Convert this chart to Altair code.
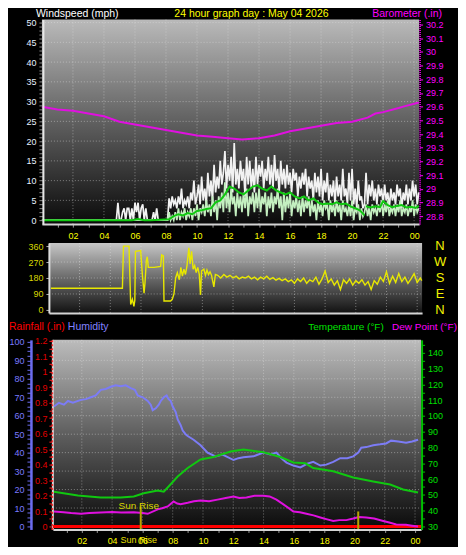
import altair as alt
import pandas as pd

FONT = "Liberation Sans"
W, H = 450, 539

# ---------------- shared tick lists ----------------
hour_ticks = list(range(1, 25))
grid_hours = [2, 4, 6, 8, 10, 12, 14, 16, 18, 20, 22, 24]

# ---------------- panel 1 : wind speed & barometer ----------------
wind_ticks = list(range(0, 51))
wind_grid = [5, 10, 15, 20, 25, 30, 35, 40, 45, 50]
baro_ticks = [28.8, 28.9, 29.0, 29.1, 29.2, 29.3, 29.4, 29.5, 29.6, 29.7,
              29.8, 29.9, 30.0, 30.1, 30.2]

gust_start, gust_step = 4.8, 0.1
gust = [
    0, 4.4, 0, 0, 2, 3, 0, 3, 3, 0,
    3, 0, 4.4, 2, 4.4, 0, 3, 4, 0, 3,
    0, 0, 0, 0, 2, 0, 3, 0, 0, 0,
    0, 0, 0, 0, 5.5, 3, 6, 4, 5, 3,
    6, 4, 8, 3, 5, 4, 6, 3, 7, 5,
    10, 4, 6, 9, 4, 11, 5, 8, 4, 12,
    6, 10, 5, 14, 7, 11, 8, 15, 9, 12,
    17.5, 8, 14, 10, 16, 7, 19.5, 9, 13, 8,
    15, 10, 13, 6, 16, 9, 15, 8, 13, 7,
    16, 9, 14, 11, 15, 8, 13, 10, 16, 9,
    14, 8, 16.5, 10, 13, 7, 15, 9, 13, 8,
    14, 9, 12, 7, 13, 10, 12, 6, 11, 8,
    12, 9, 13, 6, 11, 8, 10, 5, 12, 7,
    11, 6, 13, 5, 10, 7, 12, 5, 9, 6,
    10, 4, 11, 6, 9, 5, 13, 6, 8, 4,
    12, 5, 13, 4, 8, 3, 10, 5, 6, 3,
    4, 12, 4, 9, 6, 10, 5, 8, 4, 9,
    6, 8, 4, 9, 5, 7, 3, 8, 5, 7,
    4, 9, 6, 8, 3, 7, 5, 9, 4, 8,
    5, 10, 6, 9, 4, 7]

speed_start, speed_step = 7.8, 0.1
speed = [
    0, 0, 0, 0, 2, 0, 1, 0, 2, 0,
    3, 0, 2, 1, 3, 0, 2, 1, 3, 0,
    3, 1, 4, 0, 3, 2, 4, 1, 5, 2,
    4, 1, 6, 2, 5, 0, 6, 3, 7, 2,
    9.6, 3, 7, 2, 8, 4, 6, 1, 7, 3,
    6, 2, 7, 3, 8, 1, 6, 4, 7, 2,
    7, 3, 8, 2, 6, 4, 7, 1, 6, 3,
    7, 2, 6, 4, 8, 3, 6, 0, 7, 2,
    6, 3, 7, 1, 5, 3, 6, 2, 5, 1,
    6, 2, 5, 3, 6, 1, 5, 2, 4, 0,
    5, 2, 4, 1, 5, 3, 4, 0, 5, 2,
    4, 1, 5, 2, 4, 0, 5, 2, 3, 1,
    4, 1, 5, 0, 3, 2, 4, 0, 3, 1,
    2, 4, 1, 3, 0, 4, 2, 3, 1, 4,
    2, 5, 1, 4, 2, 5, 1, 3, 2, 4,
    1, 4, 2, 5, 1, 3, 2, 4, 1, 3,
    2, 5, 1, 4, 2, 3]

avg_a_t = [0, 5.8, 6.2, 6.6, 7.0, 8.2, 8.5, 8.8, 9.1, 9.4, 9.7, 10.0, 10.3, 10.6,
           10.9, 11.2, 11.5, 11.8, 12.1, 12.4, 12.7, 13.0, 13.3, 13.6, 13.9, 14.2,
           14.5, 14.8, 15.1, 15.4, 15.7, 16.0, 16.3, 16.6, 16.9, 17.2, 17.5, 17.8,
           18.1, 18.4, 18.7, 19.0, 19.3, 19.6, 19.9, 20.2, 20.5, 20.8]
avg_a_v = [0, 0, 0.3, 0, 0, 0.2, 1, 1.5, 1.2, 1.8, 1.5, 2.3, 2.5, 2.8,
           3, 4.5, 5, 6.5, 8.5, 8, 7, 6.5, 7.5, 8.5, 8.8, 8,
           7.5, 8.5, 7.5, 7, 6.5, 7, 6, 5.5, 6, 5, 5.5, 4.5,
           4, 4.2, 4, 4.5, 4, 4.2, 3.5, 3, 2.5, 1.2]
avg_b_t = [20.9, 21.2, 21.5, 21.8, 22.0, 22.3, 22.6, 22.9, 23.2, 23.5, 23.8, 24.1, 24.3]
avg_b_v = [3.5, 3.2, 3.5, 3.3, 4.8, 3.8, 3.3, 3.6, 3.8, 3.2, 3.4, 3.1, 3.6]

baro_t = [0, 1, 2, 3, 4, 5, 6, 7, 8, 9, 10, 11, 12, 12.9, 14, 15, 16, 17, 18, 19,
          20, 21, 21.5, 22, 23, 23.3, 24.3]
baro_v = [29.60, 29.58, 29.57, 29.55, 29.53, 29.49, 29.47, 29.45, 29.43, 29.41,
          29.39, 29.38, 29.37, 29.36, 29.37, 29.39, 29.42, 29.44, 29.46, 29.48,
          29.49, 29.52, 29.55, 29.56, 29.59, 29.60, 29.63]

# ---------------- panel 2 : wind direction ----------------
dir_ticks = [0, 90, 180, 270, 360]
dir_grid = [90, 180, 270]
compass_deg = [360, 270, 180, 90, 0]
compass_lbl = ["N", "W", "S", "E", "N"]

dir_a_t = [0.13, 4.79, 4.86, 5.22, 5.33, 5.44, 5.54, 5.60, 5.64, 5.98,
           6.09, 6.20, 6.26, 6.35, 6.41, 6.48, 6.85, 7.28, 7.35, 7.46,
           7.50, 7.93, 8.04, 8.15, 8.26, 8.37, 8.50, 8.60, 8.70, 8.80,
           8.90, 9.00, 9.12, 9.20, 9.30, 9.40, 9.50, 9.60, 9.70, 9.80,
           9.88, 9.95, 10.10, 10.20, 10.30, 10.40, 10.50, 10.60, 10.75, 10.85]
dir_a_v = [122, 122, 360, 360, 30, 60, 20, 55, 330, 335,
           200, 95, 150, 280, 300, 240, 240, 245, 310, 305,
           50, 50, 60, 90, 180, 210, 170, 240, 190, 230,
           200, 250, 350, 260, 330, 230, 250, 210, 240, 200,
           85, 220, 230, 195, 225, 200, 215, 195, 130, 200]
dir_b_start, dir_b_step = 11.0, 0.2
dir_b_v = [195, 180, 200, 185, 195, 180, 190, 175, 185, 180,
           190, 175, 185, 170, 185, 175, 190, 172, 182, 168,
           178, 165, 175, 160, 170, 150, 175, 160, 180, 150,
           170, 160, 185, 145, 175, 220, 155, 175, 140, 165,
           115, 170, 150, 175, 140, 165, 150, 170, 140, 160,
           115, 165, 145, 185, 160, 215, 150, 190, 155, 205,
           160, 185, 150, 175, 205, 155, 180]

# ---------------- panel 3 : humidity, rain, temperature, dew point ----------------
hum_ticks = [i * 2.5 for i in range(41)]
hum_grid = [10, 20, 30, 40, 50, 60, 70, 80, 90, 100]
rain_ticks = [0, 0.05, 0.1, 0.15, 0.2, 0.25, 0.3, 0.35, 0.4, 0.45, 0.5, 0.55, 0.6,
              0.65, 0.7, 0.75, 0.8, 0.85, 0.9, 0.95, 1.0, 1.05, 1.1, 1.15, 1.2]
temp_ticks = [30, 35, 40, 45, 50, 55, 60, 65, 70, 75, 80, 85, 90, 95, 100, 105,
              110, 115, 120, 125, 130, 135, 140, 145]

hum_t = [0.16, 0.49, 0.82, 1.08, 1.41, 1.94, 2.27, 2.60, 2.92, 3.25,
         3.58, 3.91, 4.24, 4.57, 4.90, 5.23, 5.50, 5.69, 6.02, 6.35,
         6.55, 6.68, 6.88, 7.08, 7.21, 7.41, 7.60, 7.73, 7.87, 8.00,
         8.20, 8.33, 8.52, 8.66, 8.85, 8.99, 9.38, 9.84, 10.30, 10.83,
         11.29, 12.02, 12.34, 12.67, 13.33, 13.99, 14.45, 14.85, 15.18, 15.51,
         15.97, 16.43, 16.89, 17.28, 17.75, 18.14, 18.60, 19.06, 19.53, 19.92,
         20.25, 20.45, 20.78, 21.24, 21.70, 22.09, 22.42, 22.89, 23.41, 23.81,
         24.20]
hum_v = [65, 67, 66, 68, 67, 68.6, 69, 70, 71, 74,
         74.5, 75.7, 76.5, 76, 76.5, 75, 74, 71, 70, 68,
         66, 63, 64, 66, 68, 70, 71, 69, 68, 65,
         62, 58, 55, 52, 50, 49, 47, 44, 40, 38,
         39, 36, 37, 37.5, 38, 40, 39, 40, 37, 34.6,
         33, 32, 34, 35, 33, 33.5, 35, 37, 37, 38,
         40, 42.7, 43, 44, 44.5, 45, 46.5, 46, 45.4, 46,
         47]

temp_t = [0.16, 1.74, 3.25, 4.57, 5.43, 6.09, 7.01, 7.41, 7.67, 8.33, 8.99, 9.84,
          10.70, 11.82, 12.67, 13.99, 15.11, 15.97, 16.76, 17.28, 18.60, 19.92,
          21.24, 22.36, 23.21, 24.20]
temp_v = [52, 49.6, 48.4, 48.4, 49, 51, 52.8, 52, 54.7, 61.6, 67, 72.4,
          74, 77.5, 78.7, 77, 74, 70.5, 70, 67, 65, 61,
          58.5, 56.6, 53.4, 51.5]

dew_t = [0.16, 0.8, 1.3, 1.94, 2.5, 3.25, 4.0, 4.6, 5.43, 6.0,
         6.35, 7.01, 7.3, 7.67, 8.06, 8.3, 8.52, 8.99, 9.4, 9.84,
         10.4, 10.96, 11.5, 12.02, 12.4, 12.87, 13.4, 13.99, 14.4, 14.85,
         15.31, 15.97, 16.4, 16.83, 17.3, 17.75, 18.2, 18.60, 19.0, 19.46,
         19.92, 20.3, 20.78, 21.3, 21.90, 22.3, 22.76, 23.4, 23.8, 24.20]
dew_v = [39.5, 39, 38.5, 38, 38.5, 38.9, 39.2, 38.8, 39, 38.5,
         38, 40.8, 41.5, 42.7, 45.8, 44.5, 44, 45, 46, 46.5,
         46, 47, 48, 49, 48, 48.4, 49.5, 49.5, 49, 47,
         44, 39.5, 39, 38, 37, 35.7, 34.5, 33.5, 34, 34,
         35, 36, 35.7, 35, 33.5, 32.5, 31.3, 31, 30.5, 30]

rain_t = [0.09, 24.4]
rain_v = [0, 0]

sun_t = [5.89, 20.25]
sun_top = [42.6, 39.5]
sunrise_t = [5.89]

# ---------------- scales ----------------
def S(domain, rng):
    return alt.Scale(domain=domain, range=rng, nice=False, zero=False)

sx1 = S([0, 24.32], [33, 411])
sy_wind = S([-1.01, 50.76], [216, 11])
sy_baro = S([28.742, 30.236], [216, 11])

sx2 = S([0, 24.32], [40, 414])
sy_dir = S([-17, 377], [305, 235])

sx3 = S([0.09, 24.4], [44, 413])
sy_hum = S([-1.6, 101.1], [522, 332])
sy_rain = S([-0.019, 1.206], [522, 332])
sy_temp = S([28.1, 148.2], [522, 332])

TICK_FS = 9
HOUR_EXPR = "datum.value % 2 == 1 ? '' : (datum.value % 24 < 10 ? '0' : '') + (datum.value % 24)"

def hour_axis(axis_y, labels=True):
    kw = dict(orient="bottom", offset=axis_y - H, grid=False, title=None,
              domainColor="#d4d4d4", domainWidth=2, zindex=1)
    if labels:
        kw.update(values=hour_ticks, labelExpr=HOUR_EXPR, labelColor="#ffff00",
                  labelFont=FONT, labelFontSize=TICK_FS, labelPadding=4,
                  tickColor="#9a9a9a", tickSize=3, labelFlush=False, labelOverlap=False)
    else:
        kw.update(labels=False, ticks=False)
    return alt.Axis(**kw)

ax_x1 = hour_axis(216)
ax_x2 = hour_axis(305, labels=False)
ax_x3 = hour_axis(522)

ax_wind = alt.Axis(orient="left", offset=-34, values=wind_ticks,
                   labelExpr="datum.value % 5 == 0 ? datum.label : ''",
                   labelColor="#e8f0ff", labelFont=FONT, labelFontSize=TICK_FS,
                   tickColor="#8a8a8a", tickSize=4, labelPadding=3,
                   domainColor="#e8e8e8", domainWidth=2, grid=False, title=None,
                   labelOverlap=False, labelFlush=False, zindex=1)
ax_baro = alt.Axis(orient="right", offset=411.5 - W, values=baro_ticks, format="~g",
                   labelColor="#ff00ff", labelFont=FONT, labelFontSize=TICK_FS,
                   tickColor="#ff00ff", tickSize=3, labelPadding=3,
                   domainColor="#ff00ff", domainDash=[1, 1], domainWidth=1.5,
                   grid=False, title=None, labelOverlap=False, labelFlush=False, zindex=1)
ax_dir = alt.Axis(orient="left", offset=-40, values=dir_ticks,
                  labelColor="#d8d800", labelFont=FONT, labelFontSize=TICK_FS,
                  tickColor="#b0b0b0", tickSize=3, labelPadding=3,
                  domainColor="#dcdcdc", domainWidth=2, grid=False, title=None,
                  labelOverlap=False, labelFlush=False, zindex=1)
ax_hum = alt.Axis(orient="left", offset=-22, values=hum_ticks,
                  labelExpr="datum.value % 10 == 0 ? datum.label : ''",
                  labelColor="#7b7bff", labelFont=FONT, labelFontSize=TICK_FS,
                  tickColor="#6c6cf0", tickSize=4, labelPadding=3,
                  domainColor="#6c6cf0", domainWidth=2.5, grid=False, title=None,
                  labelOverlap=False, labelFlush=False, zindex=1)
ax_rain = alt.Axis(orient="left", offset=-43, values=rain_ticks, format="~g",
                   labelExpr="round(datum.value * 20) % 2 == 0 ? datum.label : ''",
                   labelColor="#e00000", labelFont=FONT, labelFontSize=TICK_FS,
                   tickColor="#ff2020", tickSize=3, labelPadding=2,
                   domainColor="#ff3030", domainDash=[2, 2], domainWidth=1.5,
                   grid=False, title=None, labelOverlap=False, labelFlush=False, zindex=1)
ax_temp = alt.Axis(orient="right", offset=413.5 - W, values=temp_ticks,
                   labelExpr="datum.value % 10 == 0 ? datum.label : ''",
                   labelColor="#00e000", labelFont=FONT, labelFontSize=TICK_FS,
                   tickColor="#00c000", tickSize=3, labelPadding=3,
                   domainColor="#00c000", domainWidth=2, grid=False, title=None,
                   labelOverlap=False, labelFlush=False, zindex=1)


def xf(field, sc, ax):
    return alt.X(field, type="quantitative", scale=sc, axis=ax)


def yf(field, sc, ax):
    return alt.Y(field, type="quantitative", scale=sc, axis=ax)


def xd(v, sc, ax):
    return alt.XDatum(v, type="quantitative", scale=sc, axis=ax)


def yd(v, sc, ax):
    return alt.YDatum(v, type="quantitative", scale=sc, axis=ax)


def grad(top, mid, bottom):
    return alt.LinearGradient(
        gradient="linear", x1=0, x2=0, y1=0, y2=1,
        stops=[alt.GradientStop(color=top, offset=0),
               alt.GradientStop(color=mid, offset=0.5),
               alt.GradientStop(color=bottom, offset=1)])


one = pd.DataFrame({"k": [0]})
GRID = dict(color="#e6e6e6", strokeDash=[1, 2], opacity=0.45, strokeWidth=1)


def panel_bg(sx, sy, axx, axy, xlo, xhi, ylo, yhi, g):
    return alt.Chart(one).mark_rect(fill=g, strokeWidth=0).encode(
        x=xd(xlo, sx, axx), x2=alt.X2Datum(xhi),
        y=yd(yhi, sy, axy), y2=alt.Y2Datum(ylo))


def vgrid(sx, sy, axx, axy, ylo, yhi):
    return alt.Chart(pd.DataFrame({"t": grid_hours})).mark_rule(**GRID).encode(
        x=xf("t", sx, axx), y=yd(yhi, sy, axy), y2=alt.Y2Datum(ylo))


def hgrid(vals, sx, sy, axx, axy, xlo, xhi):
    return alt.Chart(pd.DataFrame({"g": vals})).mark_rule(**GRID).encode(
        y=yf("g", sy, axy), x=xd(xlo, sx, axx), x2=alt.X2Datum(xhi))


# ---------------- panel 1 ----------------
gust_df = pd.DataFrame({
    "t": [0.0] + [round(gust_start + gust_step * i, 2) for i in range(len(gust))],
    "v": [0] + gust})
speed_df = pd.DataFrame({
    "t": [0.0] + [round(speed_start + speed_step * i, 2) for i in range(len(speed))],
    "v": [0] + speed})
avg_df = pd.DataFrame({"t": avg_a_t + avg_b_t, "v": avg_a_v + avg_b_v,
                       "seg": ["a"] * len(avg_a_t) + ["b"] * len(avg_b_t)})
baro_df = pd.DataFrame({"t": baro_t, "v": baro_v})

p1_main = alt.layer(
    panel_bg(sx1, sy_wind, ax_x1, ax_wind, 0, 24.32, -1.01, 50.76,
             grad("#bababa", "#606060", "#0a0a0a")),
    vgrid(sx1, sy_wind, ax_x1, ax_wind, -1.01, 50.76),
    hgrid(wind_grid, sx1, sy_wind, ax_x1, ax_wind, 0, 24.32),
    alt.Chart(gust_df).mark_line(color="#f2f2f2", strokeWidth=1.7).encode(
        x=xf("t", sx1, ax_x1), y=yf("v", sy_wind, ax_wind)),
    alt.Chart(speed_df).mark_line(color="#c4efc0", strokeWidth=1.7).encode(
        x=xf("t", sx1, ax_x1), y=yf("v", sy_wind, ax_wind)),
    alt.Chart(avg_df).mark_line(color="#10c810", strokeWidth=2).encode(
        x=xf("t", sx1, ax_x1), y=yf("v", sy_wind, ax_wind), detail="seg:N"),
)
p1_baro = alt.Chart(baro_df).mark_line(color="#e010e0", strokeWidth=2).encode(
    x=xf("t", sx1, ax_x1), y=yf("v", sy_baro, ax_baro))
panel1 = alt.layer(p1_main, p1_baro).resolve_scale(y="independent")

# ---------------- panel 2 ----------------
dir_df = pd.DataFrame({
    "t": dir_a_t + [round(dir_b_start + dir_b_step * i, 2) for i in range(len(dir_b_v))] + [24.3],
    "v": dir_a_v + dir_b_v + [165]})
compass_df = pd.DataFrame({"deg": compass_deg, "lbl": compass_lbl})

panel2 = alt.layer(
    panel_bg(sx2, sy_dir, ax_x2, ax_dir, 0, 24.32, -17, 377,
             grad("#c6c6c6", "#6a6a6a", "#121212")),
    vgrid(sx2, sy_dir, ax_x2, ax_dir, -17, 377),
    hgrid(dir_grid, sx2, sy_dir, ax_x2, ax_dir, 0, 24.32),
    alt.Chart(dir_df).mark_line(color="#e8e800", strokeWidth=1.4).encode(
        x=xf("t", sx2, ax_x2), y=yf("v", sy_dir, ax_dir)),
    alt.Chart(compass_df).mark_text(color="#f2f200", font=FONT, fontSize=13,
                                    align="center", baseline="middle").encode(
        x=alt.value(432), y=yf("deg", sy_dir, ax_dir), text="lbl:N"),
)

# ---------------- panel 3 ----------------
hum_df = pd.DataFrame({"t": hum_t, "v": hum_v})
temp_df = pd.DataFrame({"t": temp_t, "v": temp_v})
dew_df = pd.DataFrame({"t": dew_t, "v": dew_v})
rain_df = pd.DataFrame({"t": rain_t, "v": rain_v})
sun_df = pd.DataFrame({"t": sun_t, "top": sun_top})
sunrise_df = pd.DataFrame({"t": sunrise_t})

p3_hum = alt.layer(
    panel_bg(sx3, sy_hum, ax_x3, ax_hum, 0.09, 24.4, -1.6, 101.1,
             grad("#bcbcbc", "#5e5e5e", "#0a0a0a")),
    vgrid(sx3, sy_hum, ax_x3, ax_hum, -1.6, 101.1),
    hgrid(hum_grid, sx3, sy_hum, ax_x3, ax_hum, 0.09, 24.4),
    alt.Chart(one).mark_rule(color="#d0d0d0", strokeWidth=2).encode(
        x=xd(0.09, sx3, ax_x3), y=yd(-1.6, sy_hum, ax_hum), y2=alt.Y2Datum(101.1)),
    alt.Chart(hum_df).mark_line(color="#7c7cf6", strokeWidth=2).encode(
        x=xf("t", sx3, ax_x3), y=yf("v", sy_hum, ax_hum)),
)
p3_rain = alt.Chart(rain_df).mark_line(color="#ff0000", strokeWidth=3).encode(
    x=xf("t", sx3, ax_x3), y=yf("v", sy_rain, ax_rain))
p3_temp = alt.layer(
    alt.Chart(temp_df).mark_line(color="#10c810", strokeWidth=2).encode(
        x=xf("t", sx3, ax_x3), y=yf("v", sy_temp, ax_temp)),
    alt.Chart(dew_df).mark_line(color="#e010e0", strokeWidth=2).encode(
        x=xf("t", sx3, ax_x3), y=yf("v", sy_temp, ax_temp)),
    alt.Chart(sun_df).mark_rule(color="#b8a400", strokeWidth=2).encode(
        x=xf("t", sx3, ax_x3), y=yf("top", sy_temp, ax_temp), y2=alt.Y2Datum(28.1)),
    alt.Chart(sunrise_df).mark_text(text="Sun Rise", color="#d8d400", font=FONT,
                                    fontSize=10, align="center", baseline="middle",
                                    dx=-2).encode(
        x=xf("t", sx3, ax_x3), y=yd(43.2, sy_temp, ax_temp)),
    alt.Chart(sunrise_df).mark_text(text="Sun Rise", color="#e8e000", font=FONT,
                                    fontSize=9, align="center", baseline="middle",
                                    dx=-2).encode(
        x=xf("t", sx3, ax_x3), y=alt.value(533)),
)
panel3 = alt.layer(p3_hum, p3_rain, p3_temp).resolve_scale(y="independent")


# ---------------- titles ----------------
def label(txt, color, x, y, align="left", size=10.5):
    return alt.Chart(one).mark_text(text=txt, color=color, font=FONT, fontSize=size,
                                    align=align, baseline="middle").encode(
        x=alt.value(x), y=alt.value(y))


titles = [
    label("Windspeed (mph)", "#ffffff", 27, 5),
    label("24 hour graph day : May 04 2026", "#ffff00", 243, 5, align="center"),
    label("Barometer (.in)", "#ff00ff", 364, 5),
    label("Rainfall (.in)", "#ff0000", 0, 319),
    label("Humidity", "#8282ff", 59, 319),
    label("Temperature (\u00b0F)", "#00e000", 300, 319, size=10),
    label("Dew Point (\u00b0F)", "#ff00ff", 449, 319, align="right", size=10),
]

chart = alt.layer(panel1, panel2, panel3, *titles).resolve_scale(
    x="independent", y="independent"
).properties(
    width=W, height=H, padding=0, background="black"
).configure_view(stroke=None).configure_text(font=FONT)

chart.save("out.html", embed_options={"renderer": "svg", "actions": False})
